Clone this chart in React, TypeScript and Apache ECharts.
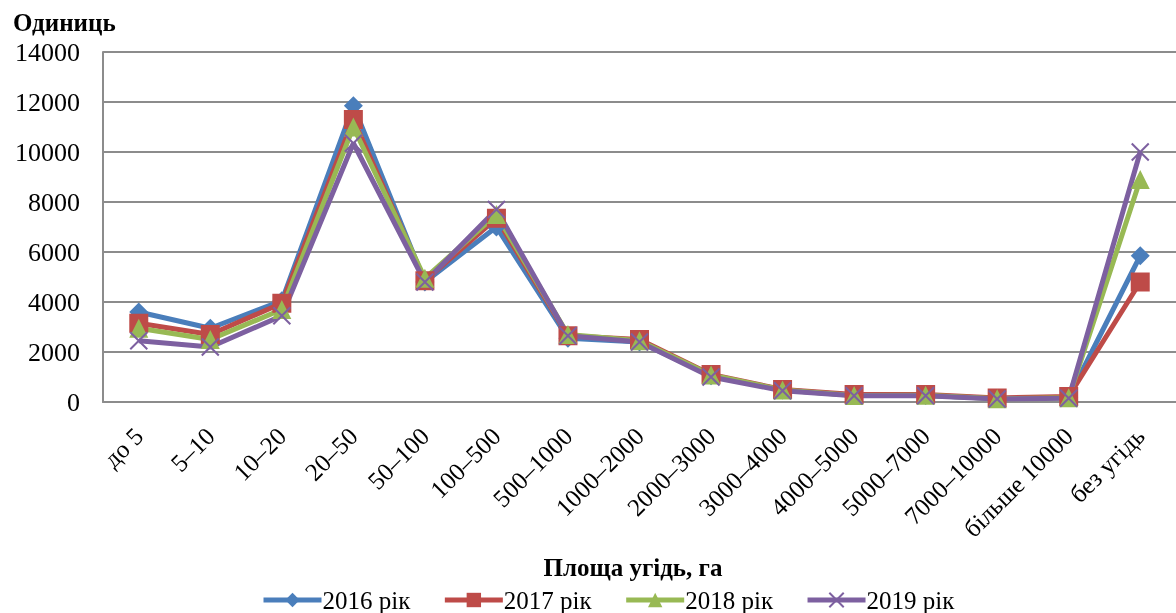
import React, { useEffect, useRef } from "react";
import * as echarts from "echarts";

const categories = ["до 5", "5–10", "10–20", "20–50", "50–100", "100–500", "500–1000", "1000–2000", "2000–3000", "3000–4000", "4000–5000", "5000–7000", "7000–10000", "більше 10000", "без угідь"];
const s2016 = [3600, 2950, 4050, 11850, 4800, 7000, 2550, 2400, 1050, 480, 270, 260, 140, 180, 5850];
const s2017 = [3150, 2700, 3950, 11300, 4850, 7350, 2650, 2500, 1100, 500, 300, 300, 160, 220, 4800];
const s2018 = [2950, 2500, 3700, 11000, 4950, 7500, 2700, 2450, 1080, 480, 260, 270, 130, 170, 8900];
const s2019 = [2450, 2200, 3450, 10350, 4800, 7700, 2650, 2400, 1000, 450, 250, 250, 120, 150, 10000];
const seriesNames = ["2016 рік", "2017 рік", "2018 рік", "2019 рік"];
const yTitle = "Одиниць";
const xTitle = "Площа угідь, га";

const FONT = "'Liberation Serif', 'Times New Roman', serif";

export default function App() {
  const ref = useRef<HTMLDivElement>(null);
  useEffect(() => {
    if (!ref.current) return;
    const chart = echarts.init(ref.current, null, { renderer: "svg" });
    const colors = ["#4A7EBB", "#BE4B48", "#98B954", "#7D60A0"];
    const symbols = ["diamond", "rect", "triangle", "path://M0,0 L10,10 M10,0 L0,10"];
    const sizes = [19, 19, 19, 17];
    const datas = [s2016, s2017, s2018, s2019];
    chart.setOption({
      animation: false,
      color: colors,
      textStyle: { fontFamily: FONT },
      title: {
        text: yTitle,
        left: 8,
        top: 5,
        textStyle: { fontFamily: FONT, fontSize: 25, fontWeight: "bold", color: "#000" },
      },
      graphic: [
        {
          type: "text",
          x: 633,
          y: 567,
          style: {
            text: xTitle,
            fontFamily: FONT,
            fontSize: 25,
            fontWeight: "bold",
            fill: "#000",
            align: "center",
            verticalAlign: "middle",
          },
        },
      ],
      grid: { left: 103, top: 52, width: 1082, height: 350 },
      legend: {
        top: 582,
        left: 256,
        itemWidth: 58,
        itemHeight: 18,
        itemGap: 32,
        data: seriesNames,
        lineStyle: { width: 5 },
        textStyle: { fontFamily: FONT, fontSize: 25, color: "#000", padding: [0, 0, 0, -4], lineHeight: 26 },
      },
      xAxis: {
        type: "category",
        data: categories,
        boundaryGap: true,
        axisLine: { lineStyle: { color: "#8c8c8c", width: 2 } },
        axisTick: { show: false },
        axisLabel: { rotate: 45, fontFamily: FONT, fontSize: 25, color: "#000", margin: 30, interval: 0 },
      },
      yAxis: {
        type: "value",
        min: 0,
        max: 14000,
        interval: 2000,
        axisLine: { show: true, lineStyle: { color: "#8c8c8c", width: 2 } },
        axisTick: { show: false },
        splitLine: { lineStyle: { color: "#8c8c8c", width: 2 } },
        axisLabel: { fontFamily: FONT, fontSize: 26, color: "#000", margin: 23, formatter: (v: number) => String(v) },
      },
      series: datas.map((d, i) => ({
        name: seriesNames[i],
        type: "line",
        data: d,
        symbol: symbols[i],
        symbolSize: sizes[i],
        lineStyle: { width: 5, color: colors[i] },
        itemStyle: i === 3 ? { color: "rgba(0,0,0,0)", borderColor: colors[i], borderWidth: 2 } : { color: colors[i] },
      })),
    });
    return () => chart.dispose();
  }, []);
  return <div ref={ref} style={{ position: "fixed", left: 0, top: 0, width: 1176, height: 613 }} />;
}
